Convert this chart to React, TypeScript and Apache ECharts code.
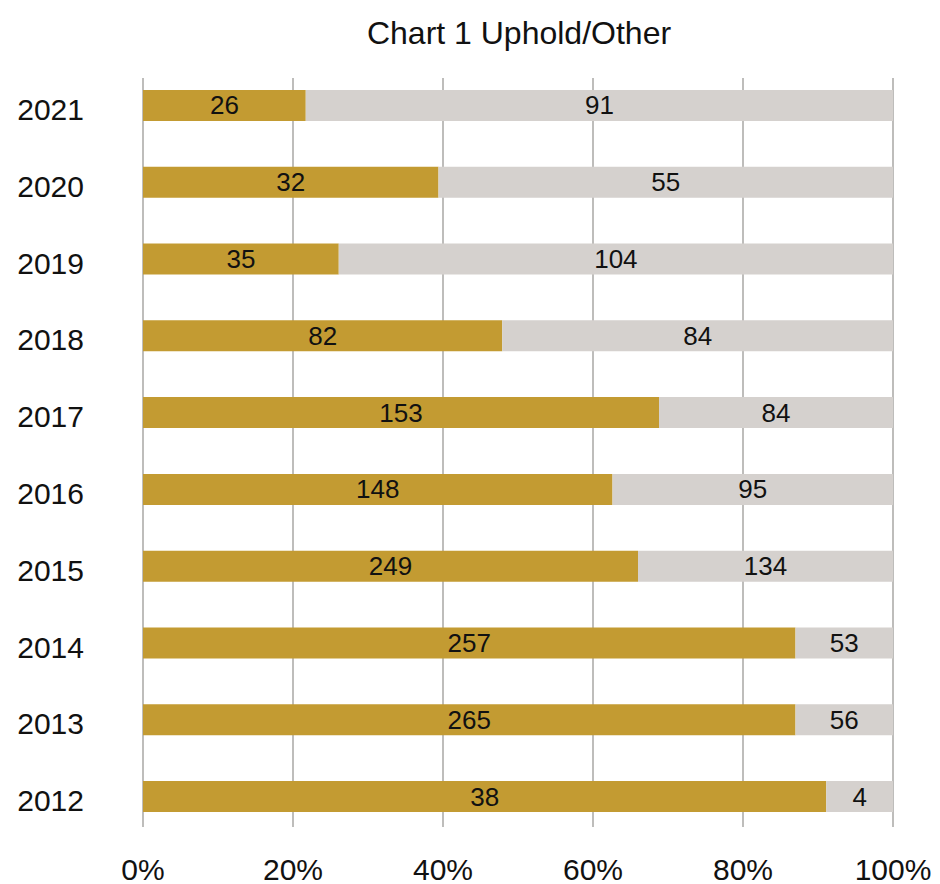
import React, { useEffect, useRef } from "react";
import * as echarts from "echarts";

const years = ["2012", "2013", "2014", "2015", "2016", "2017", "2018", "2019", "2020", "2021"];
const upholdPct = [91.1, 87.0, 87.0, 66.0, 62.6, 68.8, 47.9, 26.1, 39.4, 21.7];
const otherPct = [8.9, 13.0, 13.0, 34.0, 37.4, 31.2, 52.1, 73.9, 60.6, 78.3];
const upholdCount = [38, 265, 257, 249, 148, 153, 82, 35, 32, 26];
const otherCount = [4, 56, 53, 134, 95, 84, 84, 104, 55, 91];
const xTicks = [0, 20, 40, 60, 80, 100];

const FONT = "'Liberation Sans', Arial, Helvetica, sans-serif";

export default function App() {
  const ref = useRef<HTMLDivElement>(null);
  useEffect(() => {
    if (!ref.current) return;
    const chart = echarts.init(ref.current, undefined, { renderer: "svg" });
    chart.setOption({
      animation: false,
      textStyle: { fontFamily: FONT },
      title: {
        text: "Chart 1 Uphold/Other",
        left: 519,
        textAlign: "center",
        top: 17,
        padding: 0,
        textStyle: { fontFamily: FONT, fontSize: 32, fontWeight: "normal", color: "#111" },
      },
      grid: [
        { left: 143, width: 750, top: 67, height: 768, containLabel: false },
        { left: 143, width: 750, top: 78, height: 749, containLabel: false },
      ],
      xAxis: [
        {
          gridIndex: 0,
          type: "value",
          min: 0,
          max: 100,
          show: false,
          splitLine: { show: false },
        },
        {
          gridIndex: 1,
          type: "value",
          min: xTicks[0],
          max: xTicks[xTicks.length - 1],
          interval: 20,
          axisLine: { show: false },
          axisTick: { show: false },
          splitLine: { show: true, lineStyle: { color: "#a9a7a5", width: 1.5 } },
          axisLabel: {
            margin: 27,
            fontSize: 30,
            color: "#111",
            fontFamily: FONT,
            formatter: (v: number) => v + "%",
          },
        },
      ],
      yAxis: [
        {
          gridIndex: 0,
          type: "category",
          data: years,
          axisLine: { show: false },
          axisTick: { show: false },
          splitLine: { show: false },
          axisLabel: {
            margin: 59,
            fontSize: 30,
            color: "#111",
            fontFamily: FONT,
            verticalAlign: "top",
            padding: [-11, 0, 0, 0],
          },
        },
        {
          gridIndex: 1,
          type: "value",
          show: false,
        },
      ],
      series: [
        {
          name: "Uphold",
          type: "bar",
          stack: "total",
          xAxisIndex: 0,
          yAxisIndex: 0,
          barWidth: 31,
          data: upholdPct,
          itemStyle: { color: "#C39B32" },
          label: {
            show: true,
            position: "inside",
            fontSize: 26,
            color: "#111",
            fontFamily: FONT,
            formatter: (p: any) => String(upholdCount[p.dataIndex]),
          },
        },
        {
          name: "Other",
          type: "bar",
          stack: "total",
          xAxisIndex: 0,
          yAxisIndex: 0,
          barWidth: 31,
          data: otherPct,
          itemStyle: { color: "#D5D1CE" },
          label: {
            show: true,
            position: "inside",
            fontSize: 26,
            color: "#111",
            fontFamily: FONT,
            formatter: (p: any) => String(otherCount[p.dataIndex]),
          },
        },
      ],
    });
    return () => chart.dispose();
  }, []);
  return <div ref={ref} style={{ width: 940, height: 884, position: "absolute", left: 0, top: 0 }} />;
}
